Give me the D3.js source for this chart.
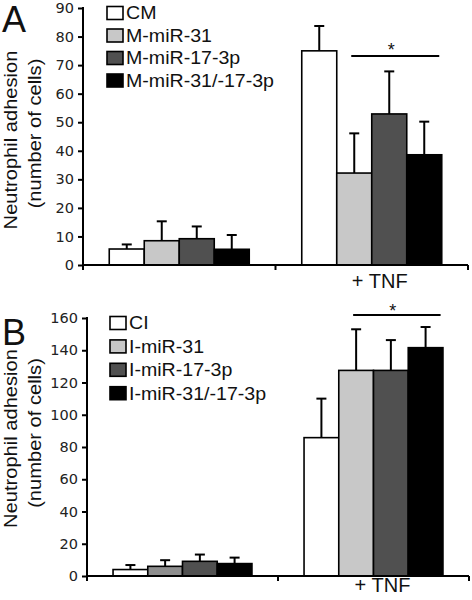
<!DOCTYPE html>
<html>
<head>
<meta charset="utf-8">
<script src="https://cdn.jsdelivr.net/npm/d3@7"></script>
<style>
  html, body { margin: 0; padding: 0; background: #fff; }
  svg { display: block; }
</style>
</head>
<body>
<svg id="chart" width="472" height="600"></svg>
<script>
// ---------- data ----------
const groups = ["control", "+ TNF"];
const groupLabels = ["", "+ TNF"];

const seriesA = ["CM", "M-miR-31", "M-miR-17-3p", "M-miR-31/-17-3p"];
const meanA_control = [5.6, 8.5, 9.2, 5.5];
const meanA_tnf = [75.0, 32.2, 52.9, 38.6];
const errA_control = [1.6, 6.8, 4.3, 5.0];
const errA_tnf = [8.7, 13.9, 14.9, 11.6];
const ticksA = [0, 10, 20, 30, 40, 50, 60, 70, 80, 90];

const seriesB = ["CI", "I-miR-31", "I-miR-17-3p", "I-miR-31/-17-3p"];
const meanB_control = [4.0, 6.0, 9.1, 7.7];
const meanB_tnf = [85.8, 127.5, 127.5, 141.6];
const errB_control = [2.8, 3.8, 4.2, 3.7];
const errB_tnf = [24.2, 25.5, 18.8, 12.8];
const ticksB = [0, 20, 40, 60, 80, 100, 120, 140, 160];

const seriesColors = ["#ffffff", "#c8c8c8", "#505050", "#000000"];

// ---------- drawing ----------
const svg = d3.select("#chart");

function drawPanel(cfg) {
  const g = svg.append("g");
  const y = d3.scaleLinear().domain([0, cfg.ymax]).range([cfg.y0, cfg.y1]);
  const x0 = d3.scaleBand().domain(groups).range([cfg.x0, cfg.x1]);
  const x1 = d3.scaleBand().domain(cfg.series).range([0, x0.bandwidth()])
    .paddingInner(0).paddingOuter(0.75);

  const rows = [];
  groups.forEach((grp, gi) => {
    const means = gi === 0 ? cfg.meanC : cfg.meanT;
    const errs = gi === 0 ? cfg.errC : cfg.errT;
    cfg.series.forEach((s, si) => {
      rows.push({ grp, s, si, gi, v: means[si], e: errs[si] });
    });
  });

  // error bars (behind bars)
  const eb = g.append("g").attr("stroke", "#000").attr("stroke-width", 2).attr("fill", "none");
  rows.forEach(r => {
    const cx = x0(r.grp) + x1(r.s) + x1.bandwidth() / 2;
    eb.append("line").attr("x1", cx).attr("x2", cx).attr("y1", y(r.v)).attr("y2", y(r.v + r.e));
    eb.append("line").attr("x1", cx - 5).attr("x2", cx + 5).attr("y1", y(r.v + r.e)).attr("y2", y(r.v + r.e));
  });

  // bars
  g.append("g").selectAll("rect").data(rows).join("rect")
    .attr("x", d => x0(d.grp) + x1(d.s))
    .attr("y", d => y(d.v))
    .attr("width", x1.bandwidth())
    .attr("height", d => y(0) - y(d.v))
    .attr("fill", d => (cfg.fillOverride && cfg.fillOverride(d)) || seriesColors[d.si])
    .attr("stroke", "#000")
    .attr("stroke-width", 1.6);

  // y axis
  const ya = g.append("g").attr("transform", `translate(${cfg.x0},0)`)
    .call(d3.axisLeft(y).tickValues(cfg.ticks).tickSize(5).tickPadding(4).tickSizeOuter(0));
  ya.select(".domain").attr("stroke", "#000").attr("stroke-width", 2)
    .attr("d", `M0,${cfg.y1 - 1}V${cfg.y0 + 5}`);
  ya.selectAll(".tick line").attr("stroke", "#000").attr("stroke-width", 2);
  ya.selectAll(".tick text").attr("font-family", "DejaVu Sans, Verdana, sans-serif")
    .attr("font-size", 14.5).attr("fill", "#222");

  // x axis
  const xa = g.append("g").attr("stroke", "#000").attr("stroke-width", 2);
  xa.append("line").attr("x1", cfg.x0).attr("x2", cfg.x1).attr("y1", y(0)).attr("y2", y(0));
  [x0(groups[1]), cfg.x1].forEach(xx => {
    xa.append("line").attr("x1", xx).attr("x2", xx).attr("y1", y(0)).attr("y2", y(0) + 5);
  });
  g.append("text")
    .attr("x", x0(groups[1]) + x0.bandwidth() / 2 + cfg.tnfDx)
    .attr("y", cfg.tnfY)
    .attr("text-anchor", "middle")
    .attr("font-family", "Liberation Sans, Arial, sans-serif")
    .attr("font-size", 20).attr("fill", "#111")
    .text(groupLabels[1]);

  // significance bar
  const sx1 = x0(groups[1]) + x1(cfg.series[1]) + x1.bandwidth() / 2 - 3;
  const sx2 = x0(groups[1]) + x1(cfg.series[3]) + x1.bandwidth() / 2 + 15;
  g.append("line").attr("x1", sx1).attr("x2", sx2).attr("y1", cfg.sigY).attr("y2", cfg.sigY)
    .attr("stroke", "#000").attr("stroke-width", 2);
  g.append("text").attr("x", (sx1 + sx2) / 2 - 4).attr("y", cfg.sigY + cfg.astDy)
    .attr("text-anchor", "middle").attr("font-family", "Liberation Sans, Arial, sans-serif")
    .attr("font-size", 18).attr("fill", "#111").text("*");

  // legend
  const lg = g.append("g");
  cfg.series.forEach((s, i) => {
    const cy = cfg.legY + i * cfg.legStep;
    lg.append("rect").attr("x", cfg.legX).attr("y", cy - 6.5).attr("width", 16).attr("height", 13)
      .attr("fill", seriesColors[i]).attr("stroke", "#000").attr("stroke-width", 1.6);
    lg.append("text")
      .attr("transform", `translate(${cfg.legX + 19},${cy + 6.3}) scale(1.12,1)`)
      .attr("font-family", "Liberation Sans, Arial, sans-serif")
      .attr("font-size", 17.5).attr("fill", "#111").text(s);
  });

  // y title
  g.append("text")
    .attr("transform", `translate(16.5,${cfg.t1c}) rotate(-90) scale(1.07,1)`)
    .attr("text-anchor", "middle")
    .attr("font-family", "Liberation Sans, Arial, sans-serif")
    .attr("font-size", 18.8).attr("fill", "#111").text("Neutrophil adhesion");
  g.append("text")
    .attr("transform", `translate(40.5,${cfg.t2c}) rotate(-90) scale(1.07,1)`)
    .attr("text-anchor", "middle")
    .attr("font-family", "Liberation Sans, Arial, sans-serif")
    .attr("font-size", 18.8).attr("fill", "#111").text("(number of cells)");

  // panel letter
  g.append("text").attr("x", 2).attr("y", cfg.letterY)
    .attr("font-family", "Liberation Sans, Arial, sans-serif")
    .attr("font-size", 36).attr("fill", "#111").text(cfg.letter);
}

drawPanel({
  letter: "A", letterY: 32,
  series: seriesA, meanC: meanA_control, meanT: meanA_tnf, errC: errA_control, errT: errA_tnf,
  ymax: 90, ticks: ticksA, y0: 265, y1: 8, x0: 83, x1: 468,
  tnfY: 288, tnfDx: 8, sigY: 56, astDy: 0,
  legX: 107, legY: 13, legStep: 22.5,
  t1c: 140, t2c: 133.5
});

drawPanel({
  letter: "B", letterY: 345,
  series: seriesB, meanC: meanB_control, meanT: meanB_tnf, errC: errB_control, errT: errB_tnf,
  ymax: 160, ticks: ticksB, y0: 576, y1: 318, x0: 87, x1: 469,
  tnfY: 592, tnfDx: 9, sigY: 315, astDy: 2,
  legX: 110, legY: 323, legStep: 23.4,
  t1c: 438.5, t2c: 433,
  fillOverride: d => (d.gi === 0 && d.si === 1) ? "#8e8e8e" : null
});
</script>
</body>
</html>
